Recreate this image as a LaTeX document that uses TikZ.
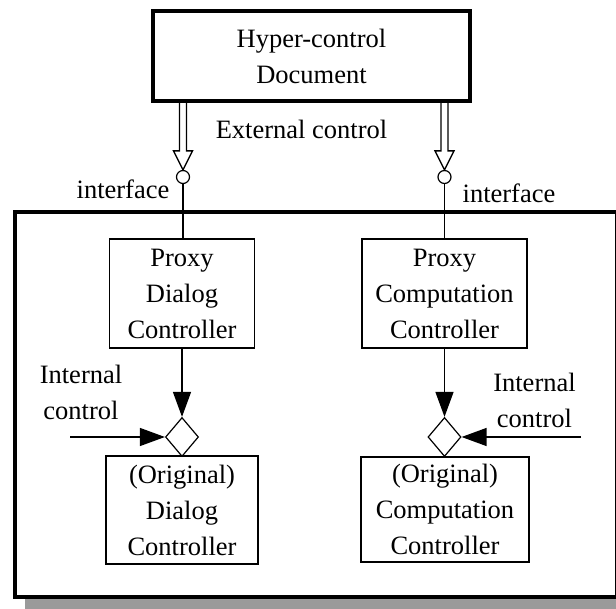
\documentclass[tikz,border=0pt]{standalone}
\usepackage{fontspec}
\setmainfont{Liberation Serif}
\usetikzlibrary{arrows.meta,shapes.geometric,calc}
\definecolor{shadowgray}{HTML}{9A9A9A}
\tikzset{
  txt/.style={font=\fontsize{26.5}{36}\selectfont, align=center, inner sep=0pt},
  box/.style={txt, draw, line width=1.3pt},
  gate/.style={diamond, draw, line width=1.2pt, inner sep=0pt,
    minimum width=33pt, minimum height=39pt, aspect=0.85, fill=white},
  port/.style={circle, draw, line width=1.2pt, inner sep=0pt,
    minimum size=13pt, fill=white},
  ctrl/.style={line width=1.3pt, -{Triangle[length=25pt,width=18pt]}},
  wire/.style={line width=1.3pt},
  hollow/.style={line width=1.3pt, line join=miter},
}
\begin{document}
\begin{tikzpicture}[x=1pt, y=-1pt]
\useasboundingbox (0,0) rectangle (616,609);

% component frame with its drop shadow
\fill[shadowgray] (25,222) rectangle (640,620);
\draw[line width=4pt, fill=white] (15,212) rectangle (616.5,597);

% hyper-control document
\node[box, line width=3.5pt, minimum width=317pt, minimum height=90pt]
  (doc) at (311.5,56) {Hyper-control\\Document};
\node[txt, anchor=base] (ext) at (301.5,139) {External control};

% interface ports
\node[port] (ifL) at (183,177) {};
\node[port] (ifR) at (444.5,177) {};
\node[txt, anchor=base] (ifLlab) at (123,199) {interface};
\node[txt, anchor=base] (ifRlab) at (509,203) {interface};

% proxy controllers
\node[box, minimum width=145pt, minimum height=109pt]
  (pdc) at (182,293.5) {Proxy\\Dialog\\Controller};
\node[box, minimum width=165pt, minimum height=109pt]
  (pcc) at (444.5,293.5) {Proxy\\Computation\\Controller};

% original controllers
\node[box, minimum width=152pt, minimum height=108pt]
  (odc) at (182,510) {(Original)\\Dialog\\Controller};
\node[box, minimum width=168pt, minimum height=105pt]
  (occ) at (445,509.5) {(Original)\\Computation\\Controller};

% control merge points
\node[gate] (gL) at (182,437) {};
\node[gate] (gR) at (444.5,437) {};

% internal control inputs
\node[txt] (icL) at (81,392) {Internal\\control};
\node[txt] (icR) at (534.5,400) {Internal\\control};
\coordinate (inL) at (70,437);
\coordinate (inR) at (581,437);

% external control: hollow double arrows into the ports
\coordinate (aL) at (doc.south -| ifL.north);
\coordinate (aR) at (doc.south -| ifR.north);
\draw[hollow] ($(aL)+(-3.5,0)$) |- ($(ifL.north)+(-9.5,-19)$) -- (ifL.north)
  -- ($(ifL.north)+(9.5,-19)$) -| ($(aL)+(3.5,0)$);
\draw[hollow] ($(aR)+(-3.5,0)$) |- ($(ifR.north)+(-9.5,-19)$) -- (ifR.north)
  -- ($(ifR.north)+(9.5,-19)$) -| ($(aR)+(3.5,0)$);

% ports to proxies
\draw[wire] (ifL.south) -- (ifL.south |- pdc.north);
\draw[wire] (ifR.south) -- (ifR.south |- pcc.north);

% proxies to merge points
\draw[ctrl] (pdc.south -| gL.north) -- (gL.north);
\draw[ctrl] (pcc.south -| gR.north) -- (gR.north);

% internal control
\draw[ctrl] (inL) -- (gL.west);
\draw[ctrl] (inR) -- (gR.east);
\end{tikzpicture}
\end{document}
